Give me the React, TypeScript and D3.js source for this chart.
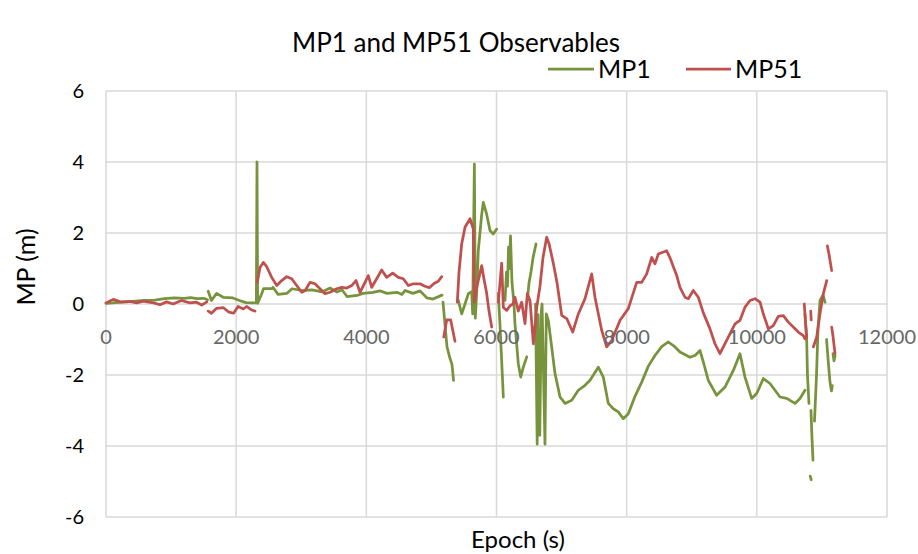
import React from 'react';
import * as d3 from 'd3';

const chartTitle = 'MP1 and MP51 Observables';
const xAxisTitle = 'Epoch (s)';
const yAxisTitle = 'MP (m)';
const seriesNames = ['MP1', 'MP51'];
const xTicks = [0, 2000, 4000, 6000, 8000, 10000, 12000];
const yTicks = [-6, -4, -2, 0, 2, 4, 6];

// null entries split the series into separate segments (data gaps)
const mp1Epoch: (number | null)[] = [
  0, 150, 300, 450, 600, 750, 900, 1050, 1200, 1300, 1400, 1500, 1560, null,
  1570, 1620, 1700, 1800, 1950, 2050, 2150, 2250, 2310, 2320, 2330, 2360, 2392, 2420, 2550, 2566, 2643, 2781, 2858, 3012, 3165, 3319, 3442, 3549, 3626, 3703, 3857, 3949, 4102, 4210, 4317, 4471, 4548, 4594, 4717, 4825, 4932, 5024, 5163, null,
  5178, 5200, 5239, 5280, 5316, 5340, null,
  5413, 5465, 5516, 5567, 5619, 5634, 5660, 5675, 5700, 5720, 5773, 5797, 5849, 5900, 5951, 6003, null,
  6028, 6054, 6077, 6105, null,
  6131, 6154, 6169, 6185, 6200, 6215, 6238, 6269, 6284, 6335, 6372, 6412, 6464, null,
  6470, 6500, 6530, 6561, 6607, null,
  6600, 6625, 6640, 6665, 6690, 6700, 6745, 6765, 6796, 6848, 6899, 6976, 7053, 7156, 7257, 7360, 7437, 7564, 7641, 7718, 7795, 7871, 7948, 8025, 8128, 8231, 8333, 8435, 8538, 8640, 8743, 8819, 8973, 9050, 9127, 9188, 9254, 9382, 9511, 9639, 9741, 9818, 9921, 9998, 10100, 10202, 10356, 10459, 10586, 10663, 10740, null,
  10740, 10766, 10778, 10801, null,
  10832, 10848, 10863, null,
  10820, 10835, null,
  10886, 10917, 10940, 10971, 11017, 11048, null,
  11071, 11101, 11124, 11147, 11160, null,
  11170, 11186, 11201,
];
const mp1Value: (number | null)[] = [
  0.02, 0.04, 0.06, 0.08, 0.1, 0.11, 0.15, 0.17, 0.16, 0.18, 0.15, 0.16, 0.12, null,
  0.36, 0.1, 0.3, 0.19, 0.17, 0.1, 0.04, 0.03, 0.03, 4.0, 0.02, 0.15, 0.29, 0.43, 0.43, 0.47, 0.27, 0.3, 0.43, 0.38, 0.4, 0.34, 0.45, 0.34, 0.4, 0.21, 0.24, 0.3, 0.33, 0.37, 0.3, 0.33, 0.27, 0.38, 0.3, 0.37, 0.17, 0.14, 0.25, null,
  0.05, -0.4, -1.2, -1.5, -1.7, -2.15, null,
  0.1, -0.28, 0.0, 0.29, 0.35, -0.28, 3.94, -0.4, 0.5, 1.5, 2.53, 2.86, 2.53, 2.07, 1.97, 2.11, null,
  0.3, -0.6, -1.5, -2.62, null,
  0.1, 0.9, 0.5, 1.6, 1.0, 1.92, 0.6, 0.0, -0.56, -1.68, -2.06, -1.78, -1.49, null,
  0.05, 0.6, 0.9, 1.3, 1.69, null,
  0.0, -3.95, -0.3, -3.7, -0.2, 0.0, -3.95, -0.28, -0.46, -1.21, -1.96, -2.62, -2.8, -2.71, -2.43, -2.29, -2.15, -1.78, -2.06, -2.8, -2.95, -3.04, -3.23, -3.09, -2.6, -2.2, -1.75, -1.45, -1.2, -1.07, -1.21, -1.35, -1.5, -1.45, -1.31, -1.7, -2.15, -2.57, -2.34, -1.87, -1.4, -2.06, -2.66, -2.52, -2.1, -2.24, -2.62, -2.66, -2.8, -2.66, -2.43, null,
  -0.28, -1.0, -2.0, -2.8, null,
  -3.0, -3.8, -4.4, null,
  -4.85, -4.95, null,
  -3.3, -2.0, -0.7, 0.1, 0.25, 0.05, null,
  -1.0, -1.7, -2.2, -2.45, -2.3, null,
  -1.4, -1.6, -1.45,
];

const mp51Epoch: (number | null)[] = [
  0, 110, 220, 370, 470, 570, 730, 830, 930, 1030, 1160, 1290, 1390, 1470, 1550, null,
  1570, 1620, 1700, 1800, 1880, 1960, 2030, 2110, 2160, 2240, 2290, null,
  2325, 2366, 2417, 2469, 2546, 2623, 2700, 2777, 2853, 2930, 3007, 3060, 3134, 3211, 3288, 3365, 3442, 3545, 3622, 3700, 3775, 3841, 3903, 3980, 4030, 4083, 4159, 4236, 4313, 4405, 4491, 4568, 4645, 4722, 4825, 4900, 4968, 5040, 5106, 5158, null,
  5190, 5235, 5296, 5362, null,
  5398, 5424, 5465, 5516, 5593, 5643, 5659, 5700, 5773, 5808, 5849, 5885, 5926, null,
  6028, 6054, 6080, 6105, 6157, 6208, 6254, 6284, 6335, 6387, 6438, 6474, 6515, 6566, 6618, 6668, 6714, 6771, 6807, 6873, 6930, 7002, 7079, 7171, 7257, 7360, 7463, 7513, 7616, 7693, 7770, 7898, 8025, 8154, 8231, 8308, 8385, 8435, 8486, 8615, 8666, 8717, 8769, 8819, 8896, 8947, 9024, 9101, 9178, 9280, 9357, 9433, 9485, 9562, 9665, 9741, 9818, 9895, 9972, 10049, 10100, 10152, 10176, 10253, 10330, 10407, 10484, 10560, 10637, 10714, 10740, null,
  10729, 10747, 10766, null,
  10828, 10835, null,
  10868, 10920, 10971, 11022, 11074, null,
  11083, 11109, 11150, null,
  11150, 11170, 11201,
];
const mp51Value: (number | null)[] = [
  0.03, 0.13, 0.06, 0.07, 0.03, 0.08, 0.03, -0.02, 0.06, 0.0, 0.1, 0.03, 0.05, -0.03, 0.06, null,
  -0.2, -0.26, -0.12, -0.1, -0.22, -0.26, -0.07, -0.14, -0.07, -0.17, -0.2, null,
  0.61, 1.03, 1.17, 1.05, 0.75, 0.52, 0.66, 0.77, 0.71, 0.52, 0.33, 0.38, 0.61, 0.57, 0.43, 0.29, 0.33, 0.43, 0.47, 0.45, 0.52, 0.66, 0.33, 0.61, 0.8, 0.47, 0.71, 0.96, 0.75, 0.87, 0.75, 0.71, 0.52, 0.57, 0.57, 0.5, 0.46, 0.58, 0.64, 0.77, null,
  -0.93, -0.45, -0.45, -1.05, null,
  0.05, 0.9, 1.69, 2.16, 2.4, 2.12, 0.05, 0.5, 1.08, 0.7, 0.3, -0.2, -0.65, null,
  0.05, 0.6, 1.15, -0.1, -0.18, -0.05, 0.0, 0.19, -0.2, 0.05, -0.55, 0.29, 0.1, -1.12, -0.1, 0.5, 1.3, 1.88, 1.7, 1.15, 0.6, -0.32, -0.41, -0.79, -0.28, 0.15, 0.85, 0.19, -0.74, -1.21, -1.03, -0.46, -0.13, 0.61, 0.61, 0.85, 1.31, 1.13, 1.41, 1.5, 1.3, 1.05, 0.8, 0.47, 0.19, 0.15, 0.38, 0.19, -0.25, -0.7, -1.12, -1.4, -1.21, -0.93, -0.56, -0.46, -0.09, 0.1, 0.15, 0.05, -0.28, -0.56, -0.7, -0.61, -0.35, -0.33, -0.51, -0.65, -0.79, -0.89, -0.98, null,
  0.0, -0.5, -0.93, null,
  -0.2, -0.45, null,
  -1.21, -0.93, -0.27, 0.29, 0.66, null,
  1.64, 1.4, 0.94, null,
  -0.65, -0.9, -1.4,
];

const FONT = "Lato, 'Open Sans', sans-serif";
const COLORS = ['#77933C', '#C0504D'];

type Pt = [number | null, number | null];

export default function App() {
  const W = 918, H = 554;
  const x = d3.scaleLinear().domain([0, 12000]).range([106, 887]);
  const y = d3.scaleLinear().domain([-6, 6]).range([517, 91]);
  const line = d3
    .line<Pt>()
    .defined((d) => d[0] != null && d[1] != null)
    .x((d) => x(d[0] as number))
    .y((d) => y(d[1] as number));

  const mp1: Pt[] = mp1Epoch.map((e, i) => [e, mp1Value[i]]);
  const mp51: Pt[] = mp51Epoch.map((e, i) => [e, mp51Value[i]]);

  return (
    <svg width={W} height={H} style={{ position: 'absolute', left: 0, top: 0, display: 'block', background: '#fff' }} fontFamily={FONT}>
      <rect x={0} y={0} width={W} height={H} fill="#fff" />
      {yTicks.map((t) => (
        <line key={'gy' + t} x1={x(0)} x2={x(12000)} y1={y(t)} y2={y(t)} stroke="#d9d9d9" strokeWidth={1.5} />
      ))}
      {xTicks.map((t) => (
        <line key={'gx' + t} x1={x(t)} x2={x(t)} y1={y(6)} y2={y(-6)} stroke="#d9d9d9" strokeWidth={1.5} />
      ))}
      {yTicks.map((t) => (
        <text key={'ly' + t} x={84} y={y(t) + 7} textAnchor="end" fontSize={20} fill="#000">{t}</text>
      ))}
      <path d={line(mp1) || ''} fill="none" stroke={COLORS[0]} strokeWidth={2.75} strokeLinejoin="round" strokeLinecap="round" />
      <path d={line(mp51) || ''} fill="none" stroke={COLORS[1]} strokeWidth={2.75} strokeLinejoin="round" strokeLinecap="round" />
      {xTicks.map((t) => (
        <text key={'lx' + t} x={x(t)} y={344} textAnchor="middle" fontSize={20} fill="#666">{t}</text>
      ))}
      <text x={456} y={52} textAnchor="middle" fontSize={26} fill="#000">{chartTitle}</text>
      <line x1={548} x2={594} y1={69} y2={69} stroke={COLORS[0]} strokeWidth={2.75} />
      <text x={598} y={78} fontSize={25} fill="#000">{seriesNames[0]}</text>
      <line x1={686} x2={731} y1={69} y2={69} stroke={COLORS[1]} strokeWidth={2.75} />
      <text x={735} y={78} fontSize={25} fill="#000">{seriesNames[1]}</text>
      <text transform={`translate(35,267) rotate(-90)`} textAnchor="middle" fontSize={25} fill="#000">{yAxisTitle}</text>
      <text x={518} y={548} textAnchor="middle" fontSize={24} fill="#000">{xAxisTitle}</text>
    </svg>
  );
}
